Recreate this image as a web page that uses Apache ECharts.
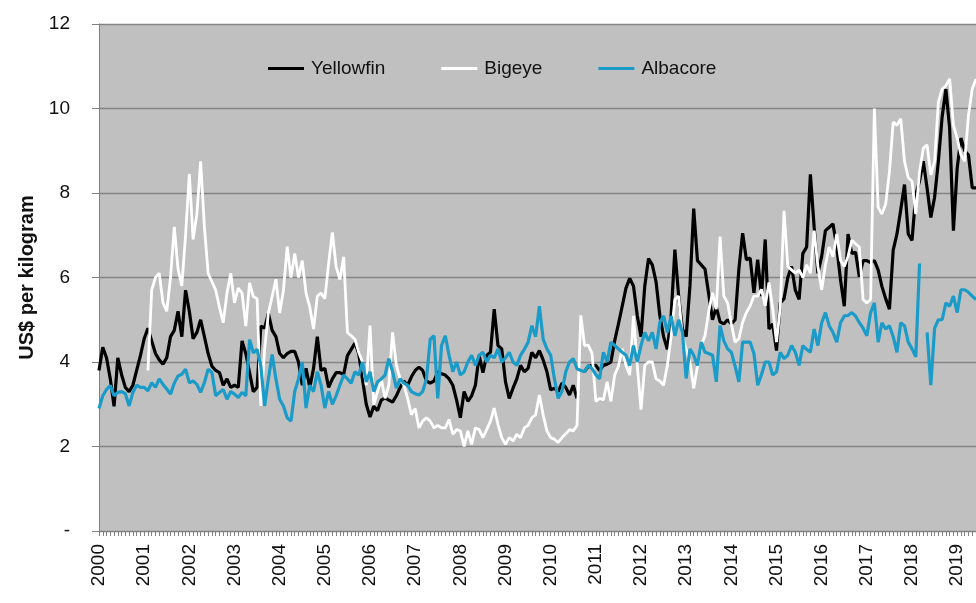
<!DOCTYPE html>
<html><head><meta charset="utf-8">
<script src="https://cdn.jsdelivr.net/npm/echarts@6/dist/echarts.min.js"></script>
<style>html,body{margin:0;padding:0;background:#fff}#c{width:976px;height:603px}</style>
</head><body><div id="c"></div>
<script>
const years = [2000,2001,2002,2003,2004,2005,2006,2007,2008,2009,2010,2011,2012,2013,2014,2015,2016,2017,2018,2019];
const yTicks = [0,2,4,6,8,10,12];
const seriesNames = ['Yellowfin','Bigeye','Albacore'];

const yellowfin = [
 3.8,4.35,4.1,3.6,2.95,4.1,3.7,3.4,3.3,3.45,3.8,4.15,
 4.55,4.8,4.5,4.2,4.05,3.95,4.1,4.6,4.75,5.2,4.6,5.7,
 5.2,4.55,4.7,5.0,4.6,4.2,3.9,3.8,3.75,3.45,3.6,3.4,
 3.45,3.4,4.5,4.2,3.75,3.3,3.4,4.85,4.8,5.15,4.75,4.6,
 4.2,4.1,4.2,4.25,4.25,4.0,3.45,3.85,3.4,3.85,4.6,3.8,
 3.85,3.4,3.6,3.75,3.75,3.7,4.15,4.3,4.45,4.2,3.6,3.0,
 2.7,2.95,2.85,3.1,3.15,3.1,3.05,3.2,3.4,3.55,3.45,3.65,
 3.8,3.88,3.8,3.55,3.5,3.55,3.77,3.72,3.69,3.6,3.45,3.1,
 2.68,3.3,3.07,3.2,3.45,4.16,3.75,4.16,4.23,5.25,4.39,4.31,
 3.53,3.14,3.38,3.6,3.92,3.77,3.85,4.23,4.1,4.27,4.05,3.77,
 3.34,3.38,3.3,3.5,3.4,3.22,3.45,3.14,null,3.77,3.9,3.92,
 3.92,3.8,3.92,3.95,4.0,4.5,4.9,5.32,5.75,5.98,5.8,5.1,
 4.6,5.8,6.45,6.3,5.9,5.1,4.6,4.3,5.1,6.66,5.56,4.78,
 4.6,5.8,7.63,6.4,6.3,6.2,5.6,5.0,5.3,4.95,4.9,5.0,
 4.9,5.0,6.2,7.05,6.42,6.46,5.64,6.42,5.56,6.9,4.78,4.9,
 4.27,5.4,5.5,6.0,6.26,5.7,5.48,6.57,6.72,8.44,7.19,6.1,
 6.5,7.11,7.19,7.27,6.72,5.95,5.32,7.03,6.57,6.6,6.02,6.4,
 6.4,6.35,6.4,6.18,5.79,5.5,5.25,6.65,7.03,7.6,8.2,7.03,
 6.88,7.97,8.28,8.75,8.12,7.42,7.9,8.75,9.8,10.46,9.53,7.11,
 8.59,9.3,9.0,8.9,8.12,8.12
];

const bigeye = [
 null,null,null,null,null,null,null,null,null,null,null,null,
 null,3.8,5.7,6.0,6.1,5.4,5.2,6.0,7.2,6.2,5.8,7.0,
 8.45,6.9,7.5,8.75,7.2,6.1,5.9,5.7,5.3,4.93,5.63,6.1,
 5.4,5.75,5.63,4.85,5.87,5.55,5.5,2.96,4.3,5.16,5.55,5.96,
 5.16,5.7,6.73,6.0,6.57,6.0,6.4,5.63,5.3,4.78,5.56,5.63,
 5.5,6.33,7.07,6.26,5.95,6.49,4.7,4.62,4.54,4.23,4.0,3.45,
 4.86,2.99,3.3,3.6,3.14,3.45,4.7,3.92,3.6,3.45,3.14,2.75,
 2.9,2.44,2.6,2.68,2.6,2.44,2.5,2.44,2.44,2.64,2.29,2.4,
 2.37,2.0,2.37,2.05,2.44,2.4,2.21,2.4,2.6,2.91,2.52,2.21,
 2.05,2.21,2.13,2.29,2.21,2.44,2.5,2.68,2.75,3.22,2.75,2.37,
 2.21,2.17,2.1,2.21,2.3,2.4,2.37,2.5,5.1,4.39,4.4,4.2,
 3.07,3.14,3.1,3.53,3.07,3.69,3.9,4.31,3.92,3.69,5.09,3.92,
 2.87,3.92,4.0,4.0,3.6,3.55,3.45,3.92,4.6,5.48,5.56,4.6,
 4.3,4.0,3.38,3.9,4.4,4.62,5.2,5.64,5.25,6.97,5.56,5.4,
 4.9,4.47,4.55,4.94,5.17,5.33,5.56,5.56,5.72,5.33,5.88,5.25,
 4.47,5.3,7.58,6.26,6.18,6.1,6.18,6.0,6.3,6.1,7.11,6.26,
 5.71,6.3,6.72,6.49,7.03,6.41,6.26,6.5,6.88,6.8,6.72,5.48,
 5.4,5.48,10.0,7.66,7.5,7.74,8.5,9.68,9.6,9.76,8.75,8.36,
 8.28,7.5,8.5,9.06,9.14,8.43,8.75,10.15,10.46,10.54,10.7,9.6,
 9.3,8.9,8.75,9.84,10.46,10.7
];

const albacore = [
 2.9,3.2,3.35,3.44,3.2,3.28,3.3,3.25,2.96,3.28,3.45,3.4,
 3.4,3.32,3.51,3.4,3.6,3.47,3.36,3.24,3.5,3.67,3.71,3.83,
 3.51,3.55,3.47,3.28,3.51,3.83,3.75,3.2,3.28,3.35,3.12,3.3,
 3.24,3.16,3.28,3.2,4.53,4.22,4.3,3.9,2.96,3.6,4.18,3.6,
 3.12,2.96,2.68,2.6,3.3,3.6,4.0,2.91,3.45,3.3,3.77,3.45,
 2.91,3.3,3.0,3.2,3.45,3.69,3.6,3.5,3.77,3.69,4.0,3.53,
 3.77,3.3,3.53,3.6,3.69,4.08,3.77,3.38,3.6,3.5,3.45,3.3,
 3.25,3.22,3.3,3.6,4.54,4.62,3.14,4.39,4.62,4.16,3.77,4.0,
 3.69,3.77,4.0,4.16,3.92,4.16,4.23,4.0,4.16,4.1,4.31,4.0,
 4.1,4.23,4.0,3.92,4.16,4.3,4.47,4.86,4.6,5.32,4.54,4.31,
 4.16,3.6,3.14,3.3,3.77,4.0,4.08,3.84,3.8,3.77,3.92,3.84,
 3.7,3.6,4.23,4.0,4.47,4.39,4.31,4.23,4.16,3.92,4.39,4.0,
 4.39,4.7,4.5,4.7,4.31,4.94,5.09,4.7,5.09,4.62,5.0,4.7,
 3.61,4.31,4.16,3.92,4.47,4.23,4.2,4.16,3.53,4.86,4.5,4.31,
 4.23,3.9,3.53,4.47,4.47,4.47,4.2,3.45,3.7,4.0,4.0,3.69,
 3.77,4.23,4.08,4.16,4.39,4.23,3.92,4.39,4.3,4.23,4.78,4.39,
 4.93,5.17,4.86,4.7,4.47,4.93,5.09,5.1,5.17,5.09,4.93,4.8,
 4.62,5.17,5.4,4.47,4.93,4.78,4.86,4.6,4.23,4.93,4.86,4.47,
 4.31,4.12,6.33,null,4.7,3.45,4.8,5.0,5.0,5.4,5.32,5.56,
 5.17,5.71,5.71,5.65,5.56,5.48
];

const months = [];
years.forEach(y => { for (let m = 1; m <= 12; m++) months.push(y + '-' + m); });
const categories = months.slice(0, yellowfin.length);

const FONT = '"Liberation Sans", Arial, sans-serif';
const chart = echarts.init(document.getElementById('c'), null, {renderer: 'canvas'});
chart.setOption({
  animation: false,
  backgroundColor: '#ffffff',
  textStyle: {fontFamily: FONT},
  grid: {left: 99, right: 0, top: 24, bottom: 72, show: true, backgroundColor: '#c0c0c0', borderWidth: 0},
  legend: {
    data: seriesNames,
    top: 54, left: 263,
    itemWidth: 36, itemHeight: 14, itemGap: 56,
    textStyle: {fontFamily: FONT, fontSize: 19, color: '#111', padding: [0, 0, 0, 2]},
    icon: 'path://M0,6 L36,6 L36,9 L0,9 Z'
  },
  xAxis: {
    type: 'category',
    data: categories,
    boundaryGap: false,
    axisLine: {lineStyle: {color: '#808080', width: 1}},
    axisTick: {show: true, interval: 0, length: 5, lineStyle: {color: '#808080'}},
    axisLabel: {
      rotate: 90, margin: 13, fontSize: 19, color: '#111', fontFamily: FONT,
      interval: (idx) => idx % 12 === 0,
      formatter: (v) => v.split('-')[0]
    },
    splitLine: {show: false}
  },
  yAxis: {
    type: 'value', min: 0, max: 12, interval: 2,
    name: 'US$ per kilogram', nameLocation: 'middle', nameGap: 62,
    nameTextStyle: {fontFamily: FONT, fontSize: 20, fontWeight: 'bold', color: '#111'},
    axisLine: {show: true, lineStyle: {color: '#808080', width: 1}},
    axisTick: {show: true, length: 7, inside: false, lineStyle: {color: '#808080'}},
    axisLabel: {fontSize: 19, color: '#111', margin: 29, fontFamily: FONT,
      formatter: (v) => v === 0 ? '-' : String(v)},
    splitLine: {show: true, lineStyle: {color: '#858585', width: 1.3}}
  },
  series: [
    {name: 'Yellowfin', type: 'line', data: yellowfin, symbol: 'none', connectNulls: false,
     lineStyle: {color: '#000000', width: 3.2}, itemStyle: {color: '#000000'}},
    {name: 'Bigeye', type: 'line', data: bigeye, symbol: 'none', connectNulls: false,
     lineStyle: {color: '#ffffff', width: 2.8}, itemStyle: {color: '#ffffff'}},
    {name: 'Albacore', type: 'line', data: albacore, symbol: 'none', connectNulls: false,
     lineStyle: {color: '#1a9bc8', width: 3.2}, itemStyle: {color: '#1a9bc8'}}
  ]
});
</script>
</body></html>
